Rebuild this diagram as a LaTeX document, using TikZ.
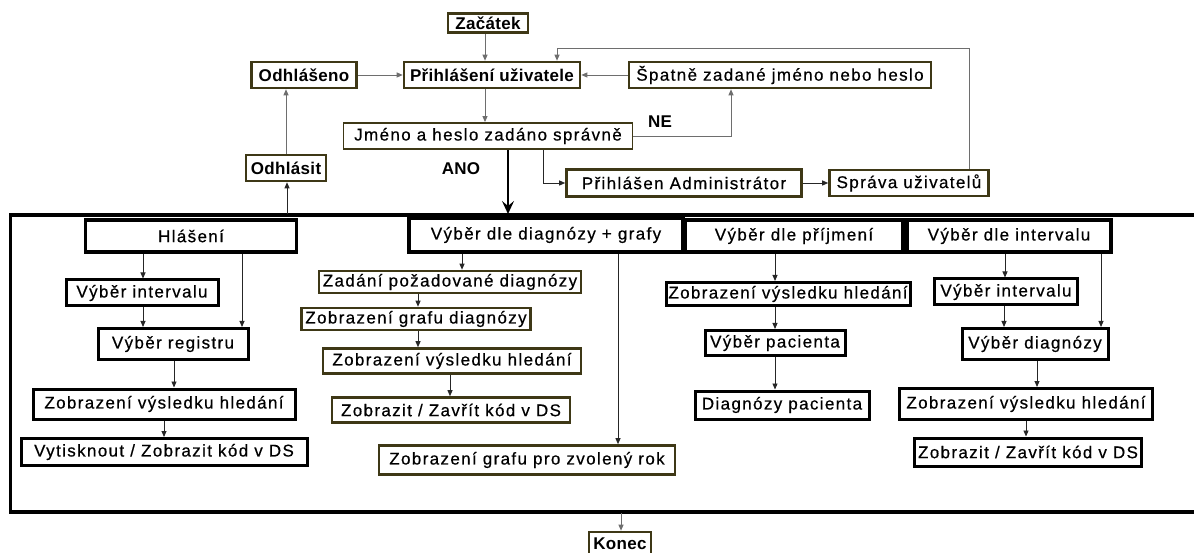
\documentclass[tikz,border=0pt]{standalone}
\usepackage{fontspec}
\setmainfont{Liberation Sans}
\newfontfamily\rfam[LetterSpace=8,FakeBold=0.5]{Liberation Sans}
\newfontfamily\bfam[LetterSpace=2]{Liberation Sans}
\usetikzlibrary{arrows.meta}
\definecolor{oliv}{RGB}{62,56,22}
\definecolor{garr}{RGB}{110,110,110}
\tikzset{
  txt/.style={font=\rfam\fontsize{17}{20}\selectfont},
  btxt/.style={font=\bfam\bfseries\fontsize{17}{20}\selectfont},
  obox/.style={draw=oliv,line width=2.6pt,fill=white,inner sep=0pt,txt},
  jbox/.style={draw=oliv,line width=1.8pt,fill=white,inner sep=0pt,txt},
  bbox/.style={draw=black,line width=3pt,fill=white,inner sep=0pt,txt},
  hbox/.style={draw=black,line width=3.6pt,fill=white,inner sep=0pt,txt},
  ga/.style={draw=garr,line width=0.9pt,-{Triangle[length=6pt,width=5pt]}},
  ba/.style={draw=black!85,line width=0.9pt,-{Triangle[length=6pt,width=5pt]}},
}
\begin{document}
\begin{tikzpicture}[x=1pt,y=-1pt]
\useasboundingbox (0,0) rectangle (1194,553);
% frame
\coordinate (ftr) at (1196,215);
\coordinate (ftl) at (10.5,215);
\coordinate (fbl) at (10.5,512);
\coordinate (fbr) at (1196,512);
\draw[line width=3.3pt] (ftr) -- (ftl) -- (fbl) -- (fbr);
% top part
\node[obox,btxt,minimum width=80,minimum height=19] (zac) at (488,23) {Začátek};
\node[obox,btxt,minimum width=105,minimum height=26] (odl) at (304,75) {Odhlášeno};
\node[obox,btxt,minimum width=176,minimum height=26] (prih) at (492,75) {Přihlášení uživatele};
\node[obox,minimum width=302,minimum height=26] (spat) at (780,75) {Špatně zadané jméno nebo heslo};
\node[jbox,minimum width=289,minimum height=26] (jm) at (488,136) {Jméno a heslo zadáno správně};
\node[obox,minimum width=235,minimum height=27] (adm) at (684,183) {Přihlášen Administrátor};
\node[obox,minimum width=159,minimum height=26] (spr) at (909,183) {Správa uživatelů};
\node[obox,btxt,minimum width=80,minimum height=26] (odh) at (286,168) {Odhlásit};
\node[obox,btxt,minimum width=62,minimum height=24] (kon) at (620,544) {Konec};
\node[btxt,inner sep=0pt] (ano) at (461,169) {ANO};
\node[btxt,inner sep=0pt] (ne) at (660,122) {NE};
% headers
\node[hbox,minimum width=211,minimum height=32] (h1) at (191,236) {Hlášení};
\node[hbox,minimum width=274,minimum height=34] (h2) at (546,235) {Výběr dle diagnózy + grafy};
\node[hbox,minimum width=218,minimum height=32] (h3) at (794,236) {Výběr dle příjmení};
\node[hbox,minimum width=204,minimum height=32] (h4) at (1009,236) {Výběr dle intervalu};
% column 1
\node[bbox,minimum width=152,minimum height=26] (a1) at (142,293) {Výběr intervalu};
\node[bbox,minimum width=150,minimum height=31] (a2) at (173,344) {Výběr registru};
\node[bbox,minimum width=262,minimum height=30] (a3) at (164,404) {Zobrazení výsledku hledání};
\node[bbox,minimum width=286,minimum height=27] (a4) at (164,452) {Vytisknout / Zobrazit kód v DS};
% column 2
\node[obox,minimum width=262,minimum height=22] (b1) at (450,282) {Zadání požadované diagnózy};
\node[obox,minimum width=229,minimum height=22] (b2) at (416,319) {Zobrazení grafu diagnózy};
\node[obox,minimum width=258,minimum height=25] (b3) at (452,361) {Zobrazení výsledku hledání};
\node[obox,minimum width=238,minimum height=25] (b4) at (451,410) {Zobrazit / Zavřít kód v DS};
\node[obox,minimum width=296,minimum height=29] (b5) at (527,460) {Zobrazení grafu pro zvolený rok};
% column 3
\node[bbox,minimum width=244,minimum height=23] (c1) at (788,294) {Zobrazení výsledku hledání};
\node[bbox,minimum width=140,minimum height=25] (c2) at (775,343) {Výběr pacienta};
\node[bbox,minimum width=174,minimum height=28] (c3) at (782,405) {Diagnózy pacienta};
% column 4
\node[bbox,minimum width=143,minimum height=26] (d1) at (1006,292) {Výběr intervalu};
\node[bbox,minimum width=146,minimum height=31] (d2) at (1035,344) {Výběr diagnózy};
\node[bbox,minimum width=253,minimum height=31] (d3) at (1026,404) {Zobrazení výsledku hledání};
\node[bbox,minimum width=227,minimum height=28] (d4) at (1028,452) {Zobrazit / Zavřít kód v DS};
% top connectors
\draw[ga] (zac.south -| 485,0) -- (prih.north -| 485,0);
\draw[ga] (odl.east) -- (prih.west);
\draw[ga] (spat.west) -- (prih.east);
\draw[ga] (prih.south -| 485,0) -- (jm.north -| 485,0);
\draw[ga] (jm.east) -| (spat.south -| 731,0);
\coordinate (fb) at (557,48);
\draw[ga] (spr.north -| 969,0) |- (fb) -- (prih.north -| fb);
\draw[ba] (jm.south -| 543,0) |- (adm.west);
\draw[ba] (adm.east) -- (spr.west);
\coordinate (bigt) at (508,214);
\draw[draw=black,line width=1.6pt,-{Stealth[length=13pt,width=12pt,inset=5pt]}] (jm.south -| bigt) -- (bigt);
\coordinate (frodh) at (287,214);
\draw[ba] (frodh) -- (odh.south -| frodh);
\draw[ga] (odh.north -| 286,0) -- (odl.south -| 286,0);
\coordinate (frkon) at (621,513);
\draw[ga] (frkon) -- (kon.north -| frkon);
% column 1 connectors
\draw[ba] (h1.south -| 143,0) -- (a1.north -| 143,0);
\draw[ba] (h1.south -| 242,0) -- (a2.north -| 242,0);
\draw[ba] (a1.south -| 143,0) -- (a2.north -| 143,0);
\draw[ba] (a2.south -| 174,0) -- (a3.north -| 174,0);
\draw[ba] (a3.south -| 164,0) -- (a4.north -| 164,0);
% column 2 connectors
\draw[ba] (h2.south -| 462,0) -- (b1.north -| 462,0);
\draw[ba] (b1.south -| 418,0) -- (b2.north -| 418,0);
\draw[ba] (b2.south -| 418,0) -- (b3.north -| 418,0);
\draw[ba] (b3.south -| 450,0) -- (b4.north -| 450,0);
\draw[ba] (h2.south -| 618,0) -- (b5.north -| 618,0);
% column 3 connectors
\draw[ba] (h3.south -| 775,0) -- (c1.north -| 775,0);
\draw[ba] (c1.south -| 775,0) -- (c2.north -| 775,0);
\draw[ba] (c2.south -| 775,0) -- (c3.north -| 775,0);
% column 4 connectors
\draw[ba] (h4.south -| 1005,0) -- (d1.north -| 1005,0);
\draw[ba] (h4.south -| 1101,0) -- (d2.north -| 1101,0);
\draw[ba] (d1.south -| 1004,0) -- (d2.north -| 1004,0);
\draw[ba] (d2.south -| 1037,0) -- (d3.north -| 1037,0);
\draw[ba] (d3.south -| 1026,0) -- (d4.north -| 1026,0);
\end{tikzpicture}
\end{document}
